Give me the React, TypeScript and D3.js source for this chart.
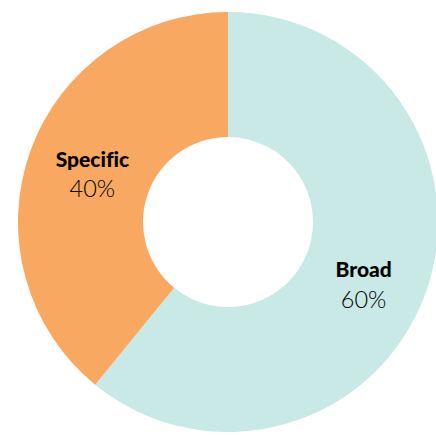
import React from "react";
import * as d3 from "d3";

const categories = ["Broad", "Specific"];
const values = [60.9, 39.1];
const percentLabels = ["60%", "40%"];
const colors = ["#C8E9E5", "#F9A862"];

const W = 436;
const H = 435;
const cx = 228;
const cy = 222;
const outerR = 210;
const innerR = 85;
const labelR = 144;

export default function App() {
  const pie = d3.pie<number>().sort(null).value((d) => d);
  const arcs = pie(values);
  const arcGen = d3.arc<d3.PieArcDatum<number>>().innerRadius(innerR).outerRadius(outerR);
  const labelArc = d3.arc<d3.PieArcDatum<number>>().innerRadius(labelR).outerRadius(labelR);
  return (
    <svg width={W} height={H} style={{ position: "absolute", left: 0, top: 0 }}>
      <g transform={`translate(${cx},${cy})`}>
        {arcs.map((a, i) => (
          <path key={categories[i]} d={arcGen(a) || ""} fill={colors[i]} />
        ))}
        {arcs.map((a, i) => {
          const [x, y] = labelArc.centroid(a);
          const nameDy = y > 0 ? 7 : -7;
          return (
            <g key={"l" + i} transform={`translate(${x},${y})`}>
              <text
                textAnchor="middle"
                y={nameDy}
                fontFamily="Lato, sans-serif"
                fontWeight={900}
                fontSize={21}
                fill="#000"
                style={{ fontVariantLigatures: "none" }}
              >
                {categories[i]}
              </text>
              <text
                textAnchor="middle"
                y={nameDy + 30.5}
                fontFamily="Lato, sans-serif"
                fontWeight={300}
                fontSize={23.5}
                fill="#000"
              >
                {percentLabels[i]}
              </text>
            </g>
          );
        })}
      </g>
    </svg>
  );
}
